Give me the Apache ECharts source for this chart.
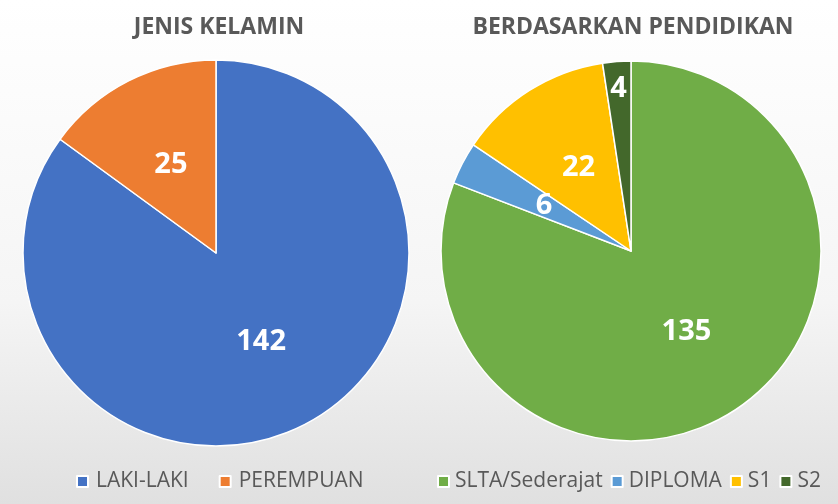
<!DOCTYPE html>
<html>
<head>
<meta charset="utf-8">
<script src="https://cdn.jsdelivr.net/npm/echarts@6/dist/echarts.min.js"></script>
<style>
  html, body { margin: 0; padding: 0; }
  #main { width: 838px; height: 504px; }
</style>
</head>
<body>
<div id="main"></div>
<script>
var genderNames = ['LAKI-LAKI', 'PEREMPUAN'];
var genderValues = [142, 25];
var genderColors = ['#4472C4', '#ED7D31'];

var eduNames = ['SLTA/Sederajat', 'DIPLOMA', 'S1', 'S2'];
var eduValues = [135, 6, 22, 4];
var eduColors = ['#70AD47', '#5B9BD5', '#FFC000', '#43682B'];

var font = '"Open Sans", sans-serif';

function toData(names, values) {
  return names.map(function (n, i) { return { name: n, value: values[i] }; });
}

var myChart = echarts.init(document.getElementById('main'));

var labelStyle = {
  show: true,
  position: 'inside',
  formatter: '{c}',
  color: '#fff',
  fontSize: 29,
  fontWeight: 'bold',
  fontFamily: font
};

option = {
  backgroundColor: {
    type: 'linear', x: 0, y: 0, x2: 0, y2: 1,
    colorStops: [
      { offset: 0, color: '#ffffff' },
      { offset: 0.6, color: '#f5f5f5' },
      { offset: 1, color: '#e0e0e0' }
    ]
  },
  title: [
    {
      text: 'JENIS KELAMIN',
      left: 214, top: 11, textAlign: 'center',
      textStyle: { color: '#595959', fontSize: 23, fontWeight: 'bold', fontFamily: font }
    },
    {
      text: 'BERDASARKAN PENDIDIKAN',
      left: 628, top: 11, textAlign: 'center',
      textStyle: { color: '#595959', fontSize: 23, fontWeight: 'bold', fontFamily: font }
    }
  ],
  legend: [
    {
      data: genderNames,
      left: 76, top: 471, padding: 0,
      icon: 'rect', itemWidth: 11, itemHeight: 11, itemGap: 30,
      textStyle: { color: '#595959', fontSize: 21, fontFamily: font, padding: [0, 0, 0, 3] }
    },
    {
      data: eduNames,
      left: 437, top: 471, padding: 0,
      icon: 'rect', itemWidth: 11, itemHeight: 11, itemGap: 8,
      textStyle: { color: '#595959', fontSize: 21, fontFamily: font, padding: [0, 0, 0, 1] }
    }
  ],
  series: [
    {
      name: 'JENIS KELAMIN',
      type: 'pie',
      center: [216, 253],
      radius: 193,
      startAngle: 90,
      clockwise: true,
      silent: true,
      color: genderColors,
      itemStyle: { borderColor: '#ffffff', borderWidth: 1.5 },
      label: labelStyle,
      labelLine: { show: false },
      data: toData(genderNames, genderValues)
    },
    {
      name: 'BERDASARKAN PENDIDIKAN',
      type: 'pie',
      center: [631, 251],
      radius: 190,
      startAngle: 90,
      clockwise: true,
      silent: true,
      color: eduColors,
      itemStyle: { borderColor: '#ffffff', borderWidth: 1.5 },
      label: labelStyle,
      labelLine: { show: false },
      labelLayout: function (params) {
        // thin S2 slice: label pushed out towards the rim
        if (params.dataIndex === 3) return { dx: -5, dy: -65 };
        return {};
      },
      data: toData(eduNames, eduValues)
    }
  ]
};

myChart.setOption(option);
</script>
</body>
</html>
